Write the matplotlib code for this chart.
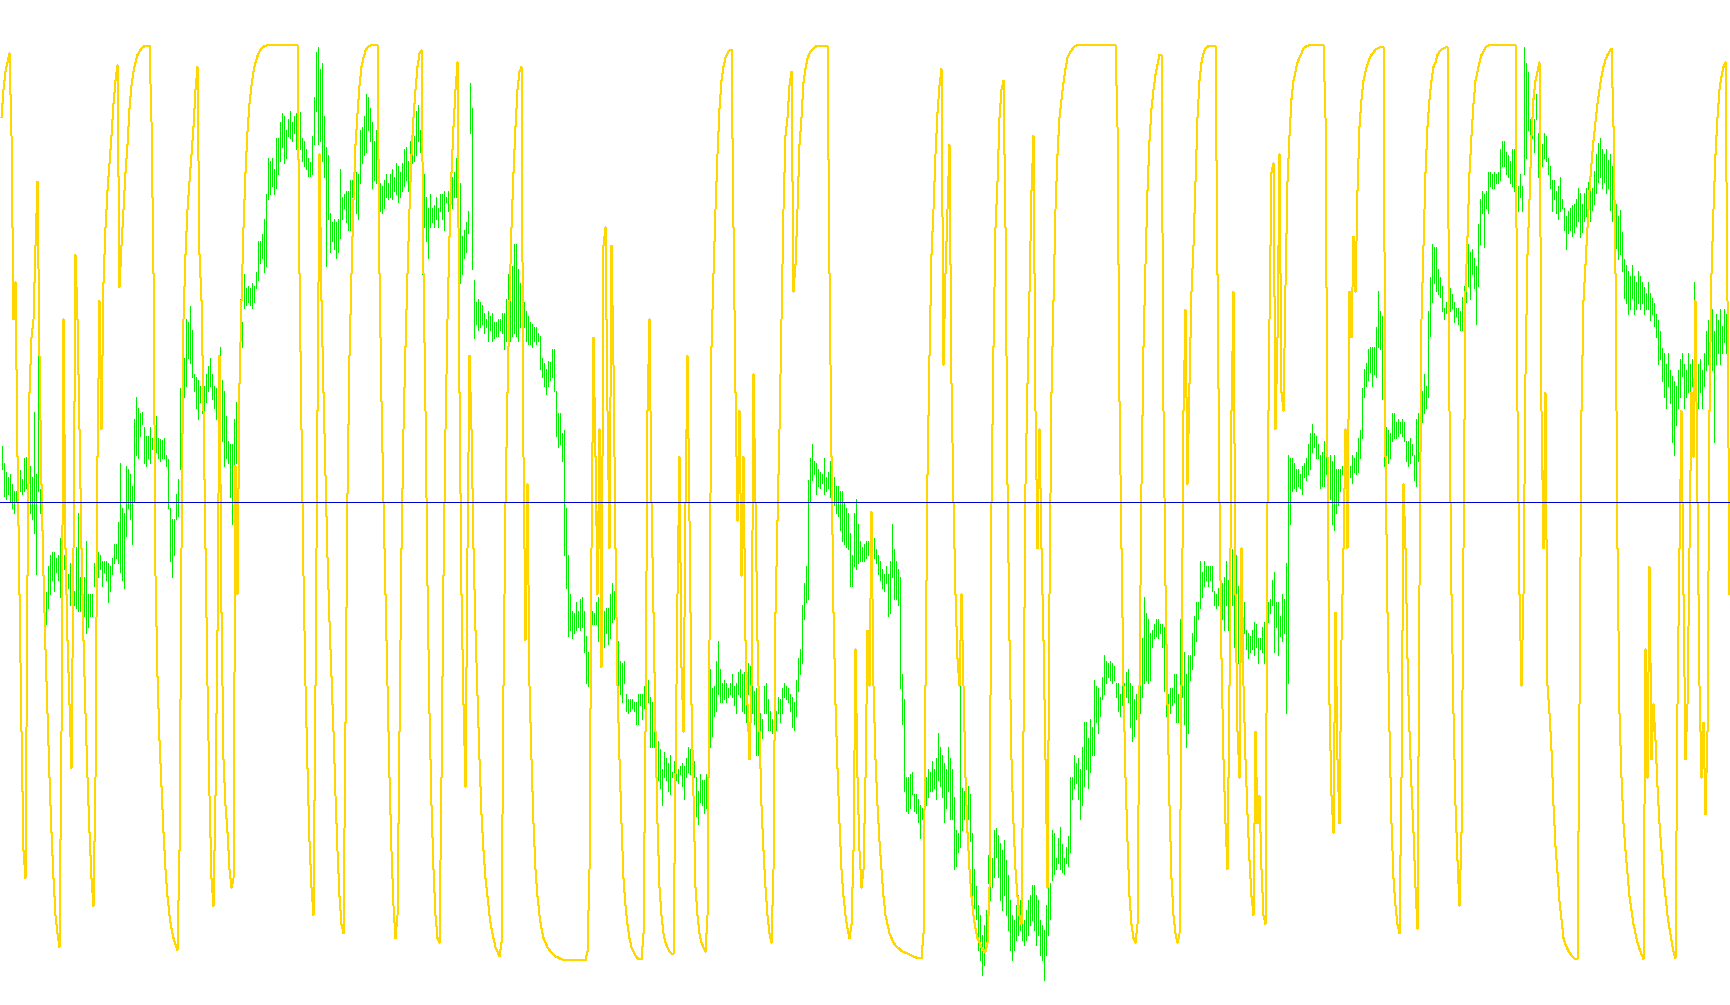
import numpy as np
import matplotlib
matplotlib.use("Agg")
import matplotlib.pyplot as plt

# Price bars (high / low, in price points), one per bar
high = [
1252,1220,1205,1195,1200,1182,1170,1170,1200,1208,
1192,1230,1232,1220,1215,1195,1312,1200,1430,1174,
1165,1005,988,1035,1055,1060,1060,1050,1055,1085,
1085,1055,1035,1020,1040,990,990,1070,1130,1015,
1010,1015,1080,985,985,985,1040,1025,1060,1055,
1045,1045,1045,1040,1035,1050,1075,1075,1115,1220,
1140,1130,1215,1210,1200,1180,1300,1340,1320,1310,
1312,1285,1270,1270,1285,1265,1267,1305,1265,1263,
1262,1265,1235,1227,1140,1120,1120,1165,1192,1355,
1403,1410,1480,1475,1503,1460,1380,1375,1370,1360,
1360,1360,1380,1395,1410,1380,1360,1355,1310,1430,
1370,1350,1305,1260,1255,1255,1300,1330,1345,1515,
1475,1560,1535,1540,1535,1545,1540,1565,1620,1620,1632,
1660,1705,1770,1765,1770,1750,1805,1805,1835,1850,
1845,1820,1840,1855,1835,1845,1850,1855,1852,1805,
1800,1785,1770,1762,1810,1880,1960,1970,1930,1940,
1845,1790,1775,1670,1655,1660,1655,1660,1750,1700,
1705,1710,1710,1730,1730,1740,1745,1740,1820,1825,
1845,1885,1880,1860,1835,1800,1820,1810,1725,1720,
1730,1740,1725,1740,1750,1735,1760,1755,1745,1760,
1785,1790,1765,1800,1815,1810,1855,1865,1820,1820,
1740,1700,1680,1705,1680,1685,1700,1680,1705,1705,
1710,1700,1710,1740,1735,1745,1770,1755,1725,1630,
1640,1655,1675,1905,1860,1550,1510,1515,1510,1505,
1490,1480,1495,1485,1490,1475,1475,1480,1480,1490,
1490,1515,1560,1515,1575,1615,1615,1570,1545,1565,1510,
1495,1485,1475,1470,1465,1465,1455,1450,1410,1400,
1390,1405,1402,1425,1425,1350,1310,1310,1275,1280,
1140,1055,985,955,950,970,955,975,980,955,
910,880,910,955,950,970,980,990,980,955,
960,960,985,1005,990,855,900,865,860,865,
805,795,795,795,790,790,805,805,805,820,
825,830,800,790,750,725,720,705,670,700,
690,680,695,665,685,680,670,675,680,675,
690,710,705,695,685,655,630,660,650,650,
660,755,850,815,820,865,900,850,825,830,
825,815,825,840,820,825,845,850,840,845,
835,860,855,830,810,815,805,770,760,820,
825,795,775,760,755,775,800,795,815,825,820,
815,805,800,790,830,870,885,965,1005,1035,
1190,1230,1255,1225,1220,1210,1205,1200,1230,1195,
1205,1225,1200,1195,1180,1180,1170,1170,1150,1140,
1130,1095,1055,1130,1155,1110,1080,1070,1075,1080,
1080,1090,1090,1085,1065,1055,1045,1030,1020,1035,
1020,1045,1110,1065,1045,1030,1015,840,795,655,
655,660,665,625,625,615,605,600,625,655,
670,665,685,670,690,735,710,695,680,670,
710,690,670,620,560,555,825,635,630,620,
640,625,555,490,460,425,407,371,389,416,
515,519,510,560,564,551,537,524,542,506,
479,434,407,398,425,443,434,407,398,416,
434,443,461,461,443,434,398,389,380,425,461,
465,560,555,510,545,565,535,510,530,550,
655,655,695,680,690,670,710,755,755,725,
760,745,830,820,815,800,835,875,865,860,
865,860,855,825,825,805,820,825,845,850,
825,820,795,805,795,900,905,980,950,940,
915,920,930,940,940,930,930,925,805,805,
815,815,840,840,805,940,940,880,840,875,
875,915,945,970,970,1045,1025,1045,1035,1035,
1035,1035,990,985,995,985,1005,1015,1045,1010,
1075,1065,1040,1055,1000,995,1000,970,920,915,
910,920,935,930,905,905,925,935,975,970,
975,1010,1025,970,970,945,985,975,1040,1235,
1230,1230,1220,1210,1210,1200,1215,1220,1230,1255,1275,
1290,1275,1270,1255,1235,1240,1260,1240,1230,1235,
1225,1235,1210,1210,1210,1215,1250,1245,1235,1215,
1235,1230,1240,1265,1280,1355,1390,1400,1425,1430,
1430,1430,1465,1530,1495,1485,1328,1285,1280,1275,
1310,1310,1295,1300,1295,1300,1295,1260,1260,1265,
1255,1235,1300,1310,1335,1350,1380,1360,1495,1555,
1615,1610,1610,1570,1555,1540,1500,1510,1530,1535,
1525,1510,1500,1500,1495,1520,1540,1575,1615,1600,
1605,1590,1575,1650,1695,1710,1705,1710,1745,1745,
1740,1745,1740,1745,1785,1800,1800,1780,1775,1765,
1785,1785,1790,1720,1740,1720,1970,1940,1925,1840,
1855,1840,1885,1815,1780,1795,1815,1810,1770,1755,
1730,1730,1710,1720,1735,1695,1680,1665,1675,1680,1685,
1686,1696,1716,1706,1686,1706,1716,1726,1736,1716,
1746,1776,1796,1806,1786,1776,1786,1766,1776,1756,
1726,1686,1666,1676,1637,1587,1577,1567,1557,1577,
1557,1547,1567,1557,1547,1537,1527,1547,1527,1518,
1508,1488,1478,1458,1428,1418,1398,1418,1388,1378,
1368,1359,1388,1408,1418,1398,1388,1418,1398,1408,
1547,1418,1398,1408,1388,1418,1458,1478,1468,1498,
1458,1488,1478,1498,1468,1498,1488,1502,1478,
]

low = [
1210,1162,1155,1165,1150,1140,1130,1150,1155,1170,
1165,1170,1175,1075,1130,1120,1095,1020,1170,1130,
1025,925,930,960,985,1010,990,1025,1010,980,
1060,1030,1000,995,965,975,965,960,955,955,
910,945,915,925,945,945,1000,1005,1015,1030,
1000,1025,1010,970,990,1020,1040,1050,1040,1025,
1010,995,1090,1140,1120,1075,1150,1235,1230,1270,
1290,1220,1215,1230,1220,1245,1250,1240,1230,1225,
1230,1230,1215,1140,1045,1015,1055,1120,1125,1210,
1310,1340,1360,1410,1400,1375,1350,1320,1300,1330,
1310,1310,1330,1350,1360,1335,1320,1300,1270,1240,
1260,1215,1230,1220,1160,1110,1160,1220,1295,1365,
1430,1500,1505,1510,1505,1500,1510,1535,1550,1580,1590,
1565,1575,1695,1705,1720,1705,1715,1740,1765,1790,
1760,1770,1810,1805,1800,1815,1785,1815,1785,1765,
1755,1750,1738,1738,1740,1795,1855,1795,1800,1765,
1735,1575,1660,1600,1620,1605,1590,1600,1625,1660,
1680,1655,1640,1640,1700,1705,1670,1660,1725,1760,
1775,1780,1820,1800,1715,1730,1725,1740,1675,1670,
1680,1700,1695,1700,1695,1710,1705,1690,1700,1710,
1720,1730,1710,1730,1760,1765,1775,1800,1780,1560,
1645,1620,1590,1645,1655,1645,1660,1645,1675,1660,
1640,1690,1675,1695,1680,1700,1700,1695,1545,1560,
1590,1600,1635,1815,1570,1445,1470,1460,1465,1470,
1455,1465,1440,1460,1440,1445,1450,1450,1460,1455,
1425,1440,1430,1440,1450,1455,1450,1440,1465,1500,1465,
1440,1435,1435,1430,1440,1435,1440,1390,1375,1360,
1345,1360,1370,1375,1350,1270,1250,1255,1225,1055,
995,910,920,905,915,920,925,920,925,880,
825,820,880,930,930,930,900,930,875,890,
915,895,905,935,940,830,810,805,790,825,
775,770,775,780,775,750,750,785,760,780,
795,790,710,710,710,640,650,635,605,655,
650,630,625,655,655,650,645,660,640,615,
655,665,660,645,655,585,570,610,605,590,
600,620,710,730,765,775,805,790,790,795,
790,800,805,800,785,770,805,800,775,770,
755,805,805,770,750,695,695,715,725,770,
770,740,740,735,735,740,770,755,770,800,795,
790,775,745,740,765,810,840,860,940,970,
975,1150,1190,1200,1165,1180,1175,1185,1165,1170,
1175,1160,1155,1145,1130,1125,1100,1080,1075,1070,
1065,1000,1000,1035,1030,1040,1045,1045,1045,1050,
1055,1055,1060,1050,1040,1020,1010,995,990,1005,
945,950,1015,975,975,965,815,750,630,595,
590,600,625,595,590,575,545,580,600,605,
620,630,630,635,615,650,640,620,575,600,
630,580,580,490,495,520,530,560,580,570,
580,540,440,420,400,344,326,299,317,344,
465,434,458,475,511,475,434,416,443,407,
380,344,326,344,362,371,380,362,353,362,
371,389,398,380,353,371,335,326,290,335,371,
400,470,480,490,500,490,485,480,500,495,
520,615,635,645,615,580,605,640,670,635,
665,695,695,755,735,765,795,805,825,835,
830,825,830,800,775,765,785,795,800,790,
745,720,730,760,715,770,800,825,830,825,
830,890,905,910,905,915,890,810,765,760,
770,785,790,755,755,760,800,750,710,735,
830,850,875,900,940,960,980,1000,1010,1000,
1010,990,965,960,965,955,940,920,965,920,
985,965,890,975,860,925,835,915,885,870,
880,885,875,890,860,885,880,860,935,935,
950,965,880,925,875,910,900,915,770,825,
1110,1170,1175,1170,1180,1175,1165,1195,1190,1200,1210,
1240,1250,1230,1230,1175,1180,1180,1200,1160,1155,
1110,1100,1130,1145,1170,1200,1200,1210,1210,1195,
1185,1205,1200,1205,1230,1265,1340,1360,1370,1385,
1360,1380,1375,1430,1425,1335,1215,1200,1220,1230,
1260,1265,1265,1270,1275,1270,1260,1225,1215,1220,
1235,1190,1180,1225,1250,1295,1310,1320,1340,1450,
1510,1545,1530,1525,1520,1495,1480,1490,1510,1495,
1500,1475,1485,1470,1460,1460,1490,1510,1540,1515,
1560,1535,1470,1540,1615,1670,1610,1680,1670,1720,
1715,1715,1725,1725,1730,1755,1755,1740,1735,1725,
1720,1710,1770,1675,1700,1675,1740,1770,1820,1735,
1805,1780,1840,1735,1735,1755,1770,1765,1740,1715,
1675,1695,1670,1660,1675,1680,1640,1605,1635,1640,1630,
1637,1647,1657,1627,1637,1657,1666,1676,1657,1676,
1686,1706,1726,1736,1716,1726,1706,1716,1676,1657,
1637,1607,1587,1597,1567,1518,1508,1488,1498,1518,
1488,1498,1508,1498,1508,1488,1498,1498,1478,1488,
1468,1448,1398,1408,1369,1339,1319,1359,1329,1259,
1235,1289,1319,1339,1378,1319,1339,1349,1329,1359,
1299,1339,1319,1349,1319,1359,1388,1398,1378,1388,
1259,1398,1418,1398,1418,1438,1418,1369,1428,
]

# Oscillator (0..100), one value per bar
osc = [
92,95,97,98,99,90,70,74,55,40,
25,12,9,42,62,68,70,78,85,66,
52,42,34,27,20,14,9,5,3,1.5,
25,70,45,35,28,21,45,77,70,58,
45,35,27,20,14,9,6,20,55,72,
58,74,80,84,87,90,93.5,96,97.7,73.5,
78,82,86,89,93,95.5,97,98,98.8,99.2,
99.5,99.7,99.8,99.8,99.8,91.5,75,42,31,24,
19,14,10,7,5,3.5,2.5,1.8,1.2,12,
45,70,77,82,85,88,91,95,97.5,77,
72,60,45,30,18,9,6,18,36,66,
38,22,17,14,10,8,9,54,40,63,
72,80,86,90.5,93.5,95.5,97,98,98.7,99.2,
99.5,99.7,99.8,99.9,99.9,99.9,99.9,99.9,99.9,99.9,
99.9,99.9,99.9,99.9,99.9,99.9,99.9,99.9,99.9,
75,58,42,30,21,13,8,5,30,60,
88,72,62,53,44,37,31,25,18,12,
7,4,3,26,51,66,75,83,89,92.4,
95.5,97.5,98.5,99.3,99.6,99.8,99.9,99.9,99.9,99.9,
75,61,50,40,30,20,12,6,2.5,5,
25,45,58,67,75,82,88,92,95,97.5,
99,99.3,75,60,41,27,17,10,5,2.5,
2,20,42,58,70,79,86,91,95,98,
62,40,28,19,45,66,58,45,36,29,
22,16,12,9,7,5,3.5,2.5,1.5,1,
0.5,2,30,50,62,72,80,86,91,95,
97,97.5,55,35,52,30,22,15,10,7,
5,3.5,2.5,2,1.5,1.2,0.9,0.7,0.5,0.4,
0.3,0.2,0.1,0.1,0.1,0.1,0.1,0.1,0.1,0.1,
0.1,0.1,0.1,0.1,1,10,45,68,55,40,
58,32,78,80,60,45,78,65,45,30,
22,15,9,6,4,2.5,1.5,1,0.6,0.3,
0.2,0.2,3,25,60,70,50,38,25,15,
8,5,3,2,1.5,1,0.8,0.8,20,40,
55,32,25,50,66,48,28,18,8,5,
3,2,1.5,1,5,35,67,75,82,88,
93,96,97.5,98.5,99,99.3,99.4,80,62,48,
60,42,55,35,28,22,30,64,50,35,
25,17,12,8,5,3,2,10,38,48,
58,70,82,90,92,95.5,97,73,76,82,
89,92,95.8,97.3,98.4,99,99.3,99.5,99.7,99.8,
99.8,99.8,99.8,99.8,99.8,75,55,38,28,21,
15,10,7,5,3.5,2.5,4,12,34,20,
12,8,10,20,36,30,49,30,22,17,
13,10,7,5,4,3,2.5,2,1.7,1.5,
1.3,1.1,1,0.9,0.8,0.7,0.6,0.5,0.4,0.3,
0.3,0.3,3,30,53,66,77,82,88,92.5,
95.5,97.3,65,75,82,89,63,50,40,33,
30,40,30,20,14,10,7,5,3.5,2.5,
2,1.5,1.2,1,2,8,50,67,80,85,
92,95,96,80,52,35,22,15,10,7,
5,4,25,52,63,73,84,90,60,45,
58,45,35,22,8,40,62,72,82,88,
92,94,95.8,97.3,98.5,99,99.3,99.6,99.8,99.9,
99.9,99.9,99.9,99.9,99.9,99.9,99.9,99.9,99.9,99.9,
99.9,99.9,99.9,99.9,99.9,99.9,99.9,99.9,99.9,91,
61,45,30,20,13,7,4,2.5,2,4,
30,52,67,76,84,89.5,93,95,96.7,97.8,
98.8,98.8,60,41,28,17,9,5,3,2,
3,30,60,71,52,63,73,78,85,92,
96,98,99,99.5,99.7,99.8,99.8,99.8,99.8,75,
50,33,22,15,10,30,60,73,40,25,
20,45,30,22,16,11,7,5,25,15,
18,10,5,4,50,70,86,87,58,68,
88,62,60,73.7,85,90,94,96,97,98,
98.5,99,99.5,99.7,99.8,99.9,99.9,99.9,99.9,99.9,
99.9,99.9,99.9,92,55,28,18,14,38,22,
15,35,45,58,45,73,68,79,73,84,
91,94,96,97,97.8,98.4,98.8,99.1,99.4,99.5,
99.6,99.7,99.7,55,38,25,15,9,6,4,
3,20,52,45,33,25,19,14,8,3.5,
41,70,78,86,91,94,96,97.5,98,98.8,
99.2,99.4,99.5,99.6,99.7,60,40,27,17,11,
6,14,45,73,79,86,90,93.5,96,97,
98,98.8,99.2,99.6,99.8,99.9,99.9,99.9,99.9,99.9,
99.9,99.9,99.9,99.9,99.9,99.9,99.9,99.9,99.9,
60,40,30,40,64,77,83,90,94,96,
97,98,60,45,62,30,27,23,17,12.5,
9.7,6.5,4.5,2.5,1.8,1.3,0.9,0.6,0.4,0.2,
0.2,28,60,72,76,80,84,87,89.5,91.5,
93.5,95,96.5,97.5,98.3,98.8,99.2,99.5,91,75,
45,27,20,15,12,9.5,7,5.5,4,3,
2,1.3,0.7,0.2,34,20,43,22,28,24,
19,15,12,9,7,5,3.5,2.2,1,0.3,
28,45,60,40,22,28,45,62,55,72,
50,30,20,26,16,25,60,75,82,88,
92,95,96.5,97.5,98,72,40,
]

signal_level = 50

if not (len(high) == len(low) == len(osc)):
    raise ValueError(f"lengths high={len(high)} low={len(low)} osc={len(osc)}")

n = len(high)
x = np.arange(n)

fig = plt.figure(figsize=(17.3, 10.05), dpi=100, facecolor="white")
ax = fig.add_axes([0, 0, 1, 1])
ax.set_xlim(-0.75, n - 0.75)
ax.set_ylim(245, 2054)
ax.axis("off")
ax.vlines(x, low, high, colors="#00F000", linewidth=0.72, antialiased=False, zorder=1)

ax2 = fig.add_axes([0, 0, 1, 1], sharex=ax)
ax2.set_ylim(-4.8, 104.8)
ax2.patch.set_alpha(0)
ax2.axis("off")
ax2.plot(np.arange(len(osc)), osc, color="#FFD700", linewidth=0.72,
         antialiased=False, zorder=2)
ax2.axhline(signal_level, color="#0000CD", linewidth=0.72, antialiased=False, zorder=3)

fig.savefig("out.png", dpi=100, facecolor="white")
